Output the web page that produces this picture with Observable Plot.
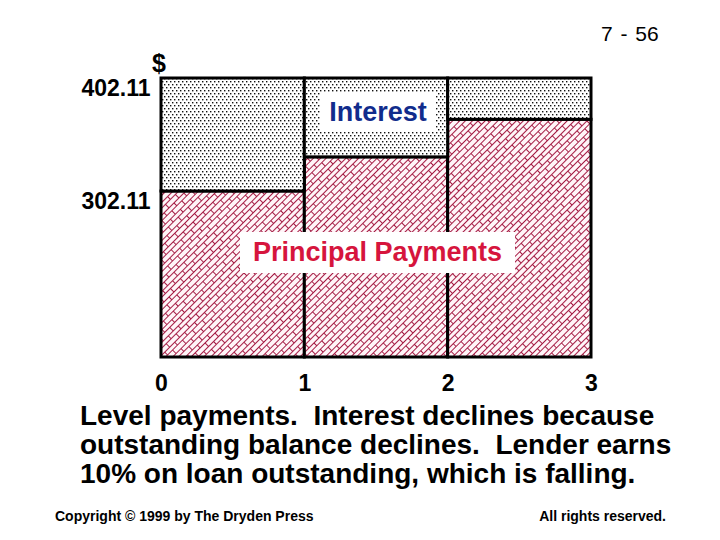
<!DOCTYPE html>
<html>
<head>
<meta charset="utf-8">
<script src="https://cdn.jsdelivr.net/npm/d3@7"></script>
<script src="https://cdn.jsdelivr.net/npm/@observablehq/plot@0.6"></script>
<style>
  html, body { margin: 0; padding: 0; background: #fff; }
  #wrap { position: relative; width: 720px; height: 540px; overflow: hidden; font-family: "Liberation Sans", Arial, sans-serif; }
  #chart { position: absolute; left: 0; top: 0; }
  .abs { position: absolute; white-space: nowrap; }
  .lbl { position: absolute; background: #fff; font-weight: bold; text-align: center; font-size: 27px; }
</style>
</head>
<body>
<div id="wrap">
  <div id="chart"></div>
  <div class="abs" id="page" style="left:601px; top:22px; font-size:21px; word-spacing:2px;">7 - 56</div>
  <div class="abs" style="left:152px; top:49px; font-size:25px; font-weight:bold;">$</div>
  <div class="lbl" style="left:320px; top:92px; width:116px; height:40px; line-height:40px; color:#112c8c;">Interest</div>
  <div class="lbl" style="left:240px; top:232px; width:275px; height:41px; line-height:41px; color:#d6153d;">Principal Payments</div>
  <div class="abs" id="caption" style="left:80px; top:401px; font-size:28px; font-weight:bold; line-height:29px;">Level payments.&nbsp; Interest declines because<br>outstanding balance declines.&nbsp; Lender earns<br>10% on loan outstanding, which is falling.</div>
  <div class="abs" style="left:55px; top:508px; font-size:14px; font-weight:bold;">Copyright © 1999 by The Dryden Press</div>
  <div class="abs" style="right:54px; top:508px; font-size:14px; font-weight:bold;">All rights reserved.</div>
</div>
<script>
// ---- data ----
const periods = [1, 2, 3];
const interest = [100.00, 69.79, 36.56];
const principal = [302.11, 332.32, 365.55];
const yTicks = [302.11, 402.11];
const xTicks = [0, 1, 2, 3];
const yFloor = 155.2;   // value at the bottom of the drawn axis
const yTop = 402.11;

const rows = periods.map((p, i) => ({
  x1: p - 1,
  x2: p,
  base: yFloor,
  prin: principal[i],
  total: principal[i] + interest[i]
}));

const chart = Plot.plot({
  width: 720,
  height: 400,
  marginLeft: 161,
  marginRight: 129,
  marginTop: 78,
  marginBottom: 43,
  x: { domain: [0, 3] },
  y: { domain: [yFloor, yTop] },
  style: {
    fontFamily: "'Liberation Sans', Arial, sans-serif",
    fontWeight: "bold",
    fontSize: "23px",
    color: "#000",
    background: "transparent",
    overflow: "visible"
  },
  marks: [
    Plot.rect(rows, { x1: "x1", x2: "x2", y1: "base", y2: "prin", fill: "url(#hatch)", stroke: "#000", strokeWidth: 3 }),
    Plot.rect(rows, { x1: "x1", x2: "x2", y1: "prin", y2: "total", fill: "url(#dots)", stroke: "#000", strokeWidth: 3 }),
    Plot.axisX({ ticks: xTicks, tickSize: 0, tickPadding: 17, tickFormat: d => String(d), label: null }),
    Plot.axisY({ ticks: yTicks, tickSize: 0, tickPadding: 11, tickFormat: d => d.toFixed(2), dy: 10, label: null })
  ]
});

// fill patterns
const ns = "http://www.w3.org/2000/svg";
const defs = document.createElementNS(ns, "defs");
defs.innerHTML = `
  <pattern id="dots" patternUnits="userSpaceOnUse" width="4" height="6">
    <rect width="4" height="6" fill="#fff"/>
    <rect x="0" y="0" width="1.4" height="1.4" fill="#111"/>
    <rect x="2" y="3" width="1.4" height="1.4" fill="#111"/>
  </pattern>
  <pattern id="hatch" patternUnits="userSpaceOnUse" width="14" height="9" patternTransform="rotate(-45)">
    <rect x="-1" y="-1" width="16" height="11" fill="#fff5f8"/>
    <path d="M-1,0.5H15M-1,5H15M0.5,0.5V5M7.5,5V9.5" stroke="#a51d45" stroke-width="1" fill="none" shape-rendering="crispEdges"/>
  </pattern>`;
chart.insertBefore(defs, chart.firstChild);
document.getElementById("chart").appendChild(chart);
</script>
</body>
</html>
